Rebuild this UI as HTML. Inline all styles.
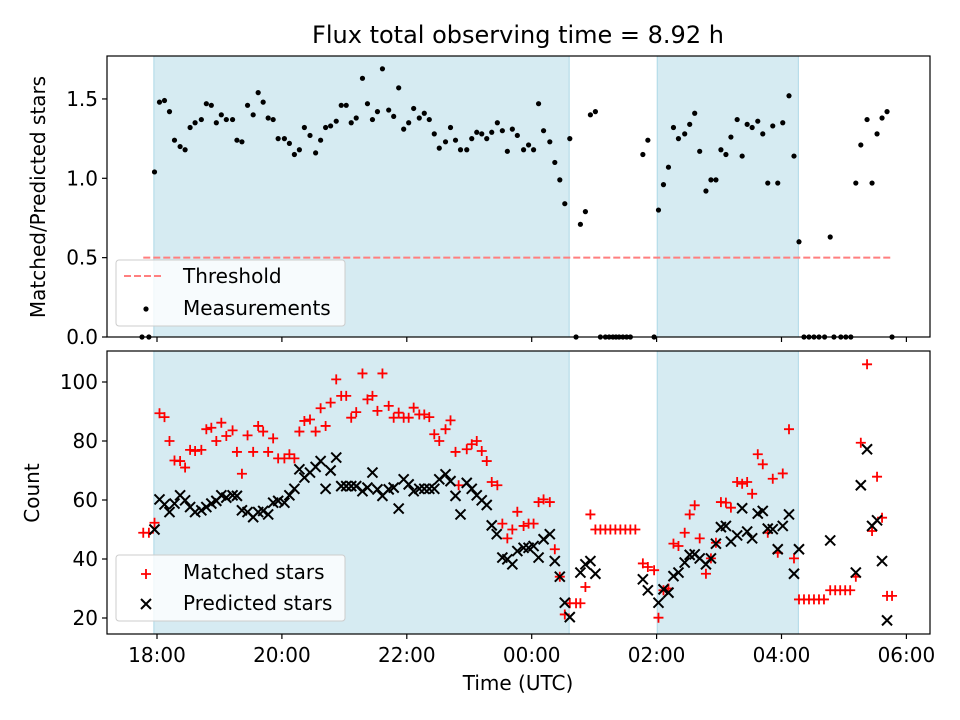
<!DOCTYPE html>
<html><head><meta charset="utf-8"><style>
body{margin:0;background:#fff;}
svg{display:block;font-family:"DejaVu Sans","Liberation Sans",sans-serif;}
</style></head><body>
<svg id="chart" width="960" height="720" xmlns="http://www.w3.org/2000/svg">
<text x="518" y="43" font-size="24" text-anchor="middle">Flux total observing time = 8.92 h</text>
<text transform="translate(45,197) rotate(-90)" font-size="20" text-anchor="middle">Matched/Predicted stars</text>
<text transform="translate(39,493) rotate(-90)" font-size="20" text-anchor="middle">Count</text>
<text x="518" y="690" font-size="20" text-anchor="middle">Time (UTC)</text>
<g id="topPanel"></g>
<g id="botPanel"></g>
</svg>
<script>
// hours since 18:00 UTC
const topTimes=[-0.24,-0.13,-0.04,0.04,0.12,0.20,0.28,0.37,0.45,0.53,0.61,0.71,0.79,0.87,0.95,1.03,1.11,1.21,1.28,1.36,1.45,1.54,1.62,1.70,1.78,1.86,1.94,2.04,2.12,2.20,2.28,2.36,2.45,2.54,2.62,2.70,2.78,2.87,2.95,3.03,3.11,3.19,3.29,3.37,3.45,3.53,3.61,3.71,3.79,3.87,3.95,4.03,4.11,4.20,4.28,4.36,4.44,4.52,4.62,4.70,4.78,4.86,4.96,5.04,5.12,5.20,5.28,5.36,5.45,5.53,5.61,5.69,5.77,5.87,5.95,6.03,6.11,6.19,6.29,6.37,6.45,6.53,6.61,6.71,6.78,6.86,6.94,7.02,7.10,7.18,7.24,7.30,7.35,7.40,7.46,7.52,7.58,7.78,7.86,7.96,8.03,8.11,8.19,8.27,8.35,8.45,8.53,8.61,8.69,8.79,8.87,8.95,9.03,9.11,9.19,9.29,9.37,9.45,9.53,9.62,9.70,9.78,9.86,9.94,10.02,10.12,10.20,10.28,10.36,10.44,10.52,10.60,10.69,10.78,10.84,10.95,11.03,11.11,11.19,11.27,11.37,11.45,11.53,11.61,11.69,11.77];
const topValues=[0,0,1.04,1.48,1.49,1.42,1.24,1.20,1.18,1.32,1.35,1.37,1.47,1.46,1.35,1.40,1.37,1.37,1.24,1.23,1.46,1.40,1.54,1.48,1.38,1.37,1.25,1.25,1.22,1.15,1.18,1.32,1.27,1.16,1.24,1.32,1.33,1.36,1.46,1.46,1.35,1.38,1.63,1.47,1.37,1.42,1.69,1.43,1.39,1.57,1.31,1.35,1.44,1.38,1.41,1.37,1.28,1.19,1.23,1.32,1.24,1.18,1.18,1.25,1.29,1.28,1.25,1.29,1.35,1.30,1.17,1.31,1.27,1.18,1.21,1.18,1.47,1.30,1.23,1.10,0.99,0.84,1.25,0,0.71,0.79,1.40,1.42,0,0,0,0,0,0,0,0,0,1.15,1.24,0,0.80,0.96,1.07,1.32,1.25,1.28,1.34,1.41,1.17,0.92,0.99,0.99,1.18,1.15,1.26,1.37,1.14,1.34,1.32,1.36,1.28,0.97,1.33,0.97,1.35,1.52,1.14,0.60,0,0,0,0,0,0.63,0,0,0,0,0.97,1.21,1.37,0.97,1.28,1.38,1.42,0];
const thresholdValue=0.5;
const thresholdRange=[-0.22,11.76];
const matchedTimes=[-0.22,-0.13,-0.04,0.04,0.12,0.20,0.28,0.37,0.45,0.53,0.61,0.71,0.79,0.87,0.95,1.03,1.11,1.21,1.28,1.36,1.45,1.54,1.62,1.70,1.78,1.86,1.94,2.04,2.12,2.20,2.28,2.36,2.45,2.54,2.62,2.70,2.78,2.87,2.95,3.03,3.11,3.19,3.29,3.37,3.45,3.53,3.61,3.71,3.79,3.87,3.95,4.03,4.11,4.20,4.28,4.36,4.44,4.52,4.62,4.70,4.78,4.83,4.96,5.04,5.12,5.20,5.28,5.36,5.45,5.53,5.61,5.69,5.77,5.87,5.95,6.03,6.11,6.19,6.29,6.37,6.45,6.53,6.61,6.71,6.78,6.86,6.94,7.02,7.10,7.18,7.26,7.34,7.42,7.50,7.58,7.66,7.78,7.86,7.96,8.03,8.11,8.19,8.27,8.35,8.45,8.53,8.61,8.69,8.79,8.87,8.95,9.03,9.11,9.19,9.29,9.37,9.45,9.53,9.62,9.70,9.78,9.86,9.94,10.02,10.12,10.20,10.28,10.36,10.44,10.52,10.60,10.68,10.78,10.86,10.94,11.02,11.10,11.19,11.27,11.37,11.45,11.53,11.61,11.69,11.77];
const matchedCounts=[48.9,48.9,52.3,89.4,88.1,80,73.4,73.2,71,77,76.6,77,84,84.5,80,86.2,81.7,83.6,76.3,68.9,81.9,76.3,85.1,83.2,76.3,80.9,74.1,74.1,75.5,74.1,83.2,86.8,87.3,83.2,91.1,85.1,93,100.9,95.3,95.3,87.9,89.8,102.9,94.1,95.3,90.2,102.9,91.9,87.9,89.6,87.9,87.9,91.3,89,89,88.1,82.3,80,84,87,76.3,65,77.2,78.9,80,76.6,73.2,66.1,65,52,47,50,56,51.2,52,52,59.3,60.2,59.3,43.3,34,21.2,25,25,25,30.5,55.1,50,50,50,50,50,50,50,50,50,38.5,37.3,36.2,20.1,29.4,30,45.2,44.4,48.9,55.1,58.2,47,35,40.2,45.5,59.3,59.1,57.4,66.1,65.5,66.1,62.1,75.5,72.1,48.9,67.2,42.1,69,84,40.2,26.3,26.3,26.3,26.3,26.3,26.3,29.4,29.4,29.4,29.4,29.4,34,79.4,106,49.5,67.9,54,27.5,27.5];
const predTimes=[-0.04,0.04,0.12,0.20,0.28,0.37,0.45,0.53,0.61,0.71,0.79,0.87,0.95,1.03,1.11,1.21,1.28,1.36,1.45,1.54,1.62,1.70,1.78,1.86,1.94,2.04,2.12,2.20,2.28,2.36,2.45,2.54,2.62,2.70,2.78,2.87,2.95,3.03,3.11,3.19,3.29,3.37,3.45,3.53,3.61,3.71,3.79,3.87,3.95,4.03,4.11,4.20,4.28,4.36,4.44,4.52,4.62,4.70,4.78,4.86,4.96,5.04,5.12,5.20,5.28,5.36,5.44,5.53,5.61,5.69,5.77,5.87,5.95,6.03,6.11,6.19,6.29,6.37,6.45,6.53,6.61,6.78,6.86,6.94,7.02,7.78,7.86,8.03,8.11,8.19,8.27,8.35,8.45,8.53,8.61,8.69,8.79,8.87,8.95,9.03,9.11,9.19,9.29,9.37,9.45,9.53,9.62,9.70,9.78,9.86,9.94,10.02,10.12,10.20,10.28,10.78,11.19,11.27,11.37,11.45,11.53,11.61,11.69];
const predCounts=[50,60.2,58.5,55.9,58.8,61.6,59.9,57.6,55.9,56.5,57.6,58.8,59.7,61.6,60.8,61.6,61.4,56.5,55.9,54.2,55.9,56.3,55.1,59.1,59.7,59.1,61.6,63.8,70.4,67.6,69.3,71.2,73.2,63.8,70,74.4,64.7,64.7,64.7,64.7,63,64.2,69.3,63.6,61.4,63.6,64.2,57.1,67,65.3,63,63.8,63.8,63.8,63.8,67,68.7,66.4,61.4,55.1,65.8,63.8,61.6,59.9,58.3,51.4,48.4,40.5,39.9,38.2,42.7,43.8,43.8,44.4,40.5,46.7,48.4,39.3,34,25.2,20.3,35.4,38.2,39.3,35,33.1,29.4,25.2,29.7,28.6,34.2,35.4,38.8,41.4,41.6,40.2,38.2,40.2,45.2,50.8,51.2,45.9,48,57.2,49.3,47,55.4,56.3,50.3,50.1,43.3,51.2,55.1,35,43.3,46.3,35.4,65,77.2,51.2,53.1,39.3,19.2];
const shadeSpans=[[-0.05,6.60],[8.01,10.27]];
const xTickHours=[0,2,4,6,8,10,12];
const xTickLabels=["18:00","20:00","22:00","00:00","02:00","04:00","06:00"];
const topYTicks=[0,0.5,1.0,1.5];
const topYLabels=["0.0","0.5","1.0","1.5"];
const botYTicks=[20,40,60,80,100];

const NS="http://www.w3.org/2000/svg";
const L=107,R=930;
const X=h=>157+62.45*h;
const topY=v=>337-158.7*v;
const botY=c=>618-2.95*(c-20);
function mk(p,t,a){const e=document.createElementNS(NS,t);for(const k in a)e.setAttribute(k,a[k]);p.appendChild(e);return e;}

function panel(g,y0,y1,yTicks,yLabels,yf,showX){
  for(const s of shadeSpans){
    const r=mk(g,'rect',{x:X(s[0]),y:y0,width:X(s[1])-X(s[0]),height:y1-y0,fill:'#add8e6','fill-opacity':0.5,stroke:'#add8e6','stroke-width':1});
    
    
  }
  xTickHours.forEach((h,i)=>{
    mk(g,'line',{x1:X(h),x2:X(h),y1:y1,y2:y1+5,stroke:'#000','stroke-width':1.2});
    if(showX){const t=mk(g,'text',{x:X(h),y:y1+28,'font-size':20,'text-anchor':'middle'});t.textContent=xTickLabels[i];
      
      }
  });
  yTicks.forEach((v,i)=>{
    mk(g,'line',{x1:L-5,x2:L,y1:yf(v),y2:yf(v),stroke:'#000','stroke-width':1.2});
    const t=mk(g,'text',{x:L-9,y:yf(v)+7,'font-size':20,'text-anchor':'end'});t.textContent=yLabels[i];
    
    
  });
}
const topG=document.getElementById('topPanel'),botG=document.getElementById('botPanel');
panel(topG,56,337,topYTicks,topYLabels,topY,false);
panel(botG,351,634,botYTicks,botYTicks.map(String),botY,true);

const th=mk(topG,'line',{x1:X(thresholdRange[0]),x2:X(thresholdRange[1]),y1:topY(thresholdValue),y2:topY(thresholdValue),stroke:'#ff7f7f','stroke-width':2,'stroke-dasharray':'7,3'});


topTimes.forEach((h,i)=>{
  const c=mk(topG,'circle',{cx:X(h),cy:topY(topValues[i]),r:2.6,fill:'#000'});
  
  
});
function plus(g,x,y){return mk(g,'path',{d:`M${x-5},${y}H${x+5}M${x},${y-5}V${y+5}`,stroke:'#f00','stroke-width':1.8,fill:'none'});}
function cross(g,x,y){return mk(g,'path',{d:`M${x-5},${y-5}L${x+5},${y+5}M${x-5},${y+5}L${x+5},${y-5}`,stroke:'#000','stroke-width':2,fill:'none'});}
matchedTimes.forEach((h,i)=>{
  const p=plus(botG,X(h),botY(matchedCounts[i]));
  
  
});
predTimes.forEach((h,i)=>{
  const p=cross(botG,X(h),botY(predCounts[i]));
  
  
});
mk(topG,'rect',{x:L,y:56,width:R-L,height:281,fill:'none',stroke:'#000','stroke-width':1.2});
mk(botG,'rect',{x:L,y:351,width:R-L,height:283,fill:'none',stroke:'#000','stroke-width':1.2});

function legend(g,y,name){
  const b=mk(g,'rect',{x:116,y:y,width:229,height:66,rx:3,fill:'#fff','fill-opacity':0.8,stroke:'#ccc'});
  
  
}
legend(topG,260,'top-legend');
mk(topG,'line',{x1:124,x2:164,y1:276,y2:276,stroke:'#ff7f7f','stroke-width':2,'stroke-dasharray':'7,3'});
let t=mk(topG,'text',{x:183,y:283,'font-size':20});t.textContent='Threshold';


mk(topG,'circle',{cx:146,cy:309,r:2.6,fill:'#000'});
t=mk(topG,'text',{x:183,y:315,'font-size':20});t.textContent='Measurements';


legend(botG,555,'bottom-legend');
plus(botG,146,574);
t=mk(botG,'text',{x:183,y:579,'font-size':20});t.textContent='Matched stars';


cross(botG,146,604);
t=mk(botG,'text',{x:183,y:610,'font-size':20});t.textContent='Predicted stars';


</script>
</body></html>
